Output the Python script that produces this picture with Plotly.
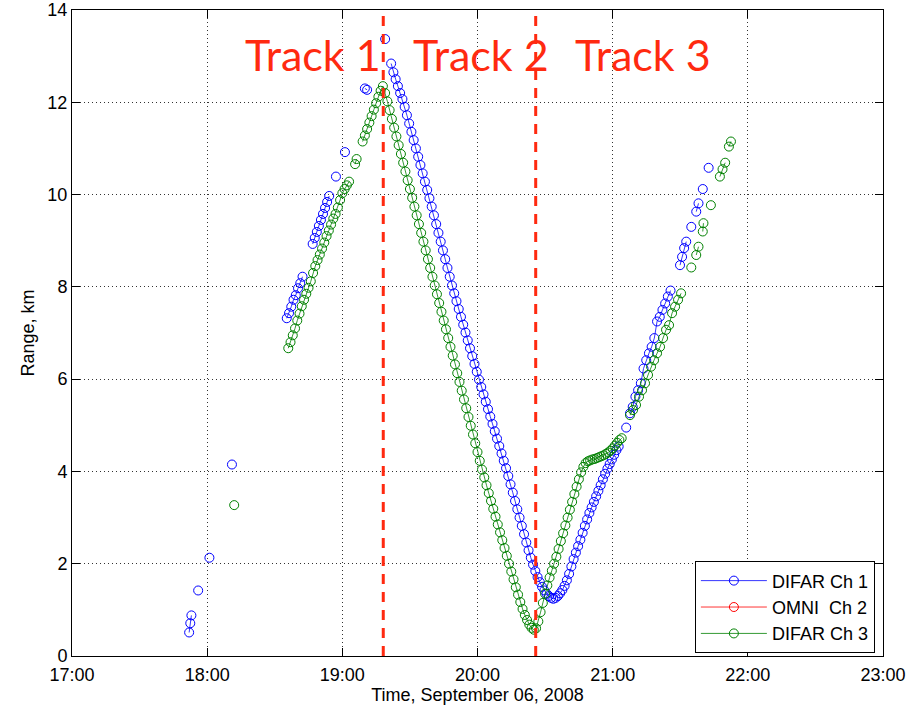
import plotly.graph_objects as go
from datetime import datetime, timedelta

DATE = "2008-09-06"

# ---------------- DIFAR Ch 1 (blue): segments = start time, sample step [s], ranges [km]
ch1_starts = ["17:52:00", "17:56:00", "18:01:00", "18:11:00", "18:35:20", "18:46:50",
              "18:57:10", "19:01:10", "19:10:00", "19:19:00", "19:21:40", "21:06:00",
              "21:07:42", "21:29:54", "21:34:54", "21:37:06", "21:40:00", "21:42:36"]
ch1_steps = [30, 60, 60, 60, 60, 55, 60, 60, 60, 60, 60, 60, 72, 55, 60, 60, 60, 60]
ch1_values = [
    [0.51, 0.71, 0.88],
    [1.42],
    [2.13],
    [4.15],
    [7.32, 7.43, 7.57, 7.72, 7.82, 7.97, 8.08, 8.22],
    [8.93, 9.06, 9.19, 9.32, 9.45, 9.58, 9.71, 9.84, 9.97],
    [10.39],
    [10.92],
    [12.30, 12.27],
    [13.37],
    [12.84, 12.65, 12.50, 12.35, 12.20, 12.07, 11.90, 11.72, 11.54, 11.36,
     11.18, 11.00, 10.82, 10.64, 10.46, 10.28, 10.10, 9.92, 9.74, 9.55,
     9.36, 9.17, 8.98, 8.79, 8.60, 8.41, 8.22, 8.03, 7.86, 7.69,
     7.52, 7.35, 7.18, 7.01, 6.84, 6.67, 6.50, 6.33, 6.16, 5.99,
     5.83, 5.67, 5.51, 5.35, 5.19, 5.03, 4.87, 4.71, 4.55, 4.39,
     4.23, 4.07, 3.90, 3.72, 3.54, 3.36, 3.18, 3.00, 2.82, 2.64,
     2.46, 2.29, 2.13, 1.98, 1.84, 1.71, 1.60, 1.50, 1.42, 1.35,
     1.30, 1.26, 1.24, 1.26, 1.30, 1.36, 1.43, 1.52, 1.64, 1.78,
     1.94, 2.10, 2.24, 2.38, 2.52, 2.67, 2.82, 2.96, 3.10, 3.22,
     3.34, 3.46, 3.58, 3.70, 3.83, 3.95, 4.06, 4.16, 4.26, 4.36,
     4.46, 4.54],
    [4.95],
    [5.26, 5.40, 5.62, 5.76, 5.91, 6.23, 6.41, 6.56, 6.70, 6.89,
     7.25, 7.35, 7.50, 7.64, 7.79, 7.92],
    [8.47, 8.65, 8.84, 8.98],
    [9.30],
    [9.63, 9.81],
    [10.12],
    [10.58],
]

# ---------------- OMNI Ch 2 (red): no visible samples
ch2_starts = []
ch2_steps = []
ch2_values = []

# ---------------- DIFAR Ch 3 (green)
ch3_starts = ["18:12:00", "18:36:00", "19:05:40", "19:09:00", "21:07:42", "21:34:54",
              "21:37:06", "21:40:00", "21:43:36", "21:47:36", "21:51:36"]
ch3_steps = [60, 60, 40, 60, 80, 60, 60, 18, 60, 70, 54]
ch3_values = [
    [3.27],
    [6.67, 6.80, 6.95, 7.10, 7.27, 7.42, 7.58, 7.72, 7.85, 7.98,
     8.12, 8.30, 8.45, 8.58, 8.70, 8.83, 8.96, 9.10, 9.22, 9.35,
     9.48, 9.58, 9.72, 9.88, 10.03, 10.12, 10.20, 10.28],
    [10.66, 10.77],
    [11.15, 11.28, 11.42, 11.56, 11.70, 11.84, 11.98, 12.12, 12.25, 12.35,
     12.20, 12.02, 11.83, 11.64, 11.45, 11.26, 11.07, 10.88, 10.69, 10.50,
     10.31, 10.12, 9.93, 9.74, 9.55, 9.36, 9.17, 8.98, 8.79, 8.60,
     8.41, 8.22, 8.03, 7.84, 7.65, 7.46, 7.27, 7.08, 6.89, 6.70,
     6.51, 6.32, 6.13, 5.94, 5.75, 5.56, 5.37, 5.18, 4.99, 4.80,
     4.61, 4.42, 4.23, 4.04, 3.87, 3.70, 3.53, 3.36, 3.19, 3.02,
     2.85, 2.68, 2.51, 2.34, 2.17, 2.00, 1.83, 1.66, 1.49, 1.33,
     1.17, 1.02, 0.89, 0.78, 0.68, 0.61, 0.57, 0.60, 0.75, 0.95,
     1.15, 1.35, 1.53, 1.70, 1.85, 2.00, 2.15, 2.32, 2.49, 2.66,
     2.83, 3.00, 3.17, 3.34, 3.51, 3.67, 3.83, 3.98, 4.10, 4.18,
     4.22, 4.24, 4.26, 4.27, 4.29, 4.31, 4.33, 4.35, 4.38, 4.41,
     4.45, 4.50, 4.56, 4.62, 4.68, 4.72],
    [5.22, 5.33, 5.44, 5.62, 5.76, 5.91, 6.09, 6.27, 6.41, 6.56,
     6.70, 6.89, 7.07, 7.17, 7.43, 7.57, 7.72, 7.86],
    [8.42],
    [8.69, 8.87],
    [9.20, 9.38],
    [9.77],
    [10.39, 10.55, 10.69],
    [11.04, 11.15],
]

series_names = ["DIFAR Ch 1", "OMNI\u00a0 Ch 2", "DIFAR Ch 3"]
series_colors = ["#0000FF", "#FF0000", "#008000"]

track_labels = ["Track 1", "Track 2", "Track 3"]
track_label_times = ["18:47:00", "20:01:30", "21:13:40"]
track_label_range = 13.03
track_boundaries = ["19:18:10", "20:25:50"]

x_range = ["17:00:00", "23:00:00"]
y_range = [0, 14]


def ts(t):
    return datetime.strptime(DATE + " " + t, "%Y-%m-%d %H:%M:%S")


def build(starts, steps, values):
    xs, ys = [], []
    for s, st, vals in zip(starts, steps, values):
        t0 = ts(s)
        for i, v in enumerate(vals):
            xs.append(t0 + timedelta(seconds=st * i))
            ys.append(v)
        xs.append(None)
        ys.append(None)
    return xs, ys


fig = go.Figure()
for (starts, steps, values), name, color in zip(
        [(ch1_starts, ch1_steps, ch1_values),
         (ch2_starts, ch2_steps, ch2_values),
         (ch3_starts, ch3_steps, ch3_values)],
        series_names, series_colors):
    xs, ys = build(starts, steps, values)
    if not xs:
        xs, ys = [None], [None]
    fig.add_trace(go.Scatter(
        x=xs, y=ys, name=name, mode="lines+markers", connectgaps=False,
        line=dict(color=color, width=0.8),
        marker=dict(symbol="circle-open", size=9, color=color,
                    line=dict(width=1, color=color)),
    ))

red = "#FF2A10"
for tb in track_boundaries:
    fig.add_shape(type="line", xref="x", yref="paper",
                  x0=ts(tb), x1=ts(tb), y0=0, y1=1,
                  line=dict(color=red, width=3, dash="10px,8px"))

for lab, t in zip(track_labels, track_label_times):
    fig.add_annotation(x=ts(t), y=track_label_range, xref="x", yref="y",
                       text=lab, showarrow=False, xanchor="center", yanchor="middle",
                       font=dict(family="Lato, Open Sans, sans-serif", size=43, color=red))

axis_common = dict(
    showline=True, linecolor="black", linewidth=1, mirror="ticks",
    ticks="inside", ticklen=8, tickcolor="black", tickwidth=1,
    showgrid=True, gridcolor="#333333", gridwidth=1, griddash="1px,3px",
    zeroline=False, tickfont=dict(size=18, color="black"),
)

fig.update_xaxes(type="date", range=[ts(x_range[0]), ts(x_range[1])],
                 tick0=ts(x_range[0]), dtick=3600000, tickformat="%H:%M",
                 ticklabelstandoff=2,
                 title=dict(text="Time, September 06, 2008", font=dict(size=18), standoff=2),
                 **axis_common)
fig.update_yaxes(range=y_range, dtick=2,
                 title=dict(text="Range, km", font=dict(size=18), standoff=8),
                 **axis_common)

fig.update_layout(
    width=922, height=711,
    margin=dict(l=72, r=39, t=10, b=55, autoexpand=False),
    plot_bgcolor="white", paper_bgcolor="white",
    font=dict(family="Liberation Sans, Arial, sans-serif", size=18, color="black"),
    showlegend=True,
    legend=dict(x=0.990, y=0.004, xanchor="right", yanchor="bottom",
                bgcolor="white", bordercolor="black", borderwidth=1,
                font=dict(size=18), itemwidth=66, tracegroupgap=0),
)

fig.write_html("out.html", config={"displayModeBar": False},
               post_script="document.body.style.margin='0';document.body.style.overflow='hidden';")
